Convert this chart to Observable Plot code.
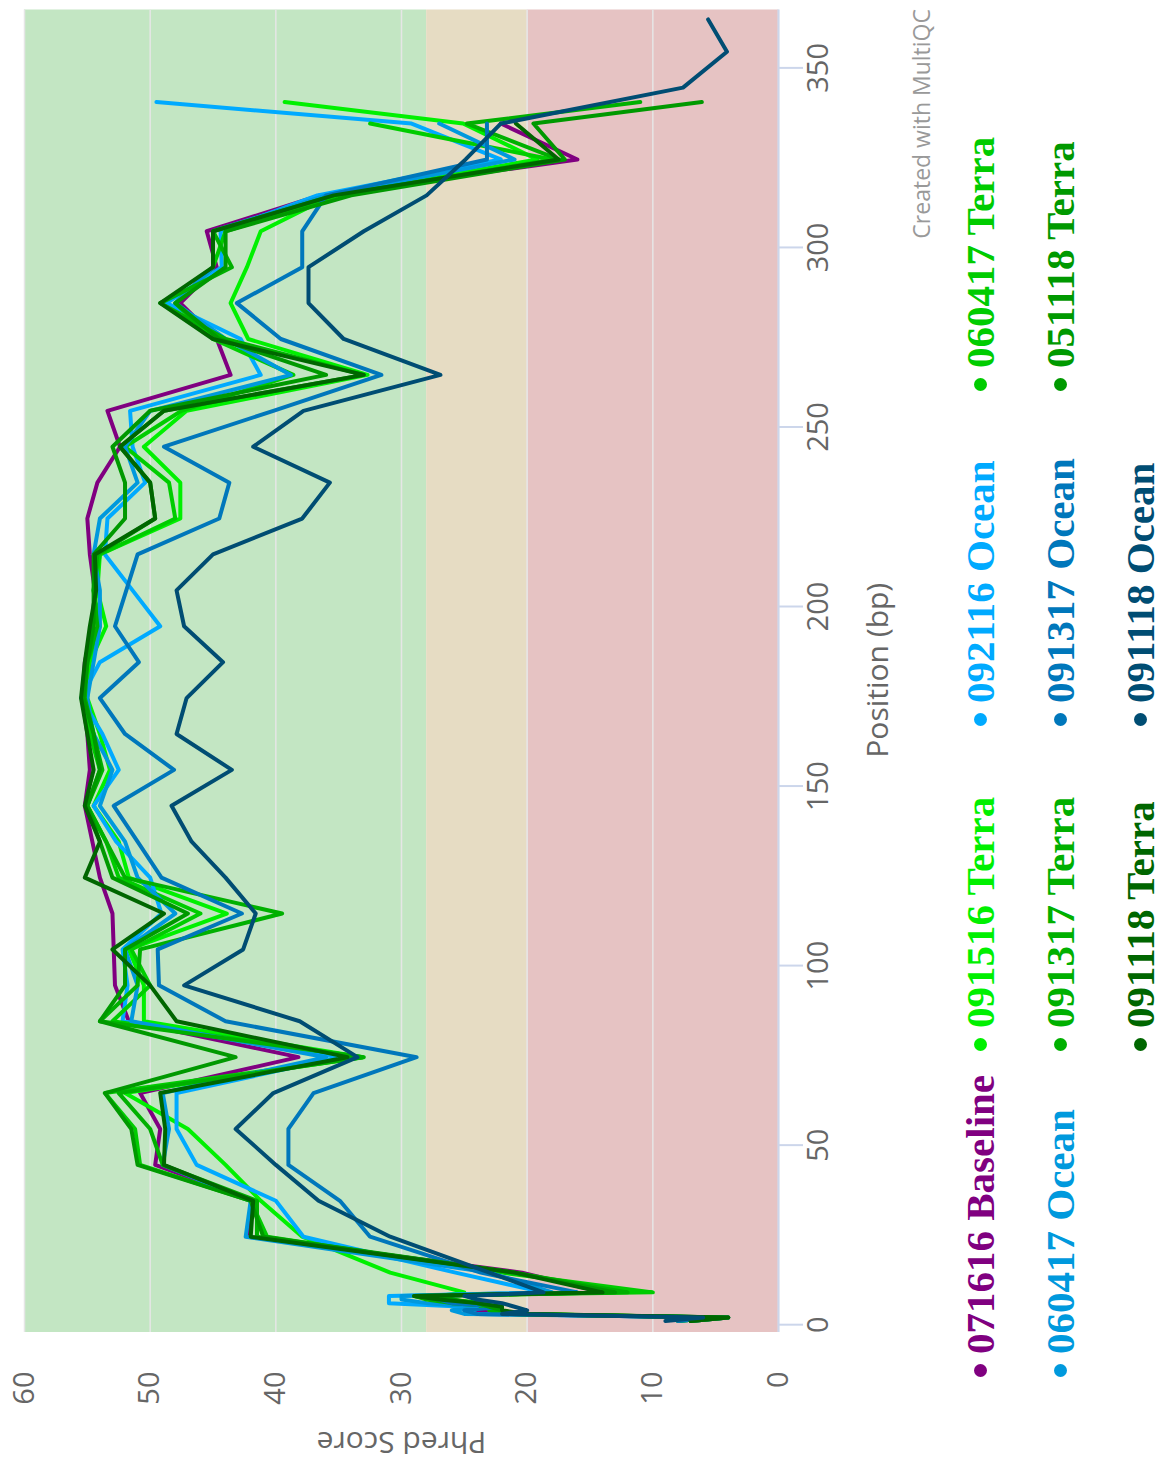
<!DOCTYPE html>
<html>
<head>
<meta charset="utf-8">
<script src="https://cdn.jsdelivr.net/npm/d3@7"></script>
<script src="https://cdn.jsdelivr.net/npm/@observablehq/plot@0.6"></script>
<style>
  html, body { margin: 0; padding: 0; background: #fff; }
  body { width: 1163px; height: 1463px; overflow: hidden; position: relative; }
  /* The figure is laid out landscape, then turned a quarter turn counter-clockwise. */
  #figure { position: absolute; left: 0; top: 0; width: 1463px; height: 1163px;
            transform-origin: 0 0; transform: translateY(1463px) rotate(-90deg); background: #fff; }
  #chart { position: absolute; left: 0; top: 0; }
  #credits { position: absolute; right: 9px; top: 905px; font: 23px 'Open Sans', sans-serif; color: #999; white-space: nowrap; }
  #legend { position: absolute; left: 86px; top: 940px; display: grid;
            grid-template-columns: 326px 325px 335px 300px; grid-auto-rows: 80px; }
  .item { display: flex; align-items: center; height: 80px; font: bold 41px 'Liberation Serif', serif; white-space: nowrap; }
  .dot { width: 13px; height: 13px; border-radius: 50%; margin-right: 10px; flex: none; }
</style>
</head>
<body>
<div id="figure">
  <div id="chart"></div>
  <div id="credits">Created with MultiQC</div>
  <div id="legend"></div>
</div>
<script>
// Mean Phred quality per base position, one array per sample (null = read not that long).
const positions = [1, 2, 3, 4, 5, 6, 7, 8, 9,
  14.5, 24.5, 34.5, 44.5, 54.5, 64.5, 74.5, 84.5, 94.5, 104.5,
  114.5, 124.5, 134.5, 144.5, 154.5, 164.5, 174.5, 184.5, 194.5, 204.5,
  214.5, 224.5, 234.5, 244.5, 254.5, 264.5, 274.5, 284.5, 294.5, 304.5,
  314.5, 324.5, 334.5, 340.5, 344.5, 354.5, 363.5];

const q071616Baseline = [7, 4, 22, 24, 23, 25, 26, 28, 14,
  20.4, 42.2, 41.8, 49.6, 49.2, 50.8, 38.2, 51.7, 52.8, 52.9,
  53.0, 54.0, 54.6, 55.2, 54.8, 55.0, 55.4, 55.2, 54.6, 54.4,
  54.8, 55.0, 54.2, 52.4, 53.4, 43.6, 44.7, 47.6, 44.7, 45.5,
  36.5, 16.0, 22.1, null, null, null, null];
const q091516Terra = [8, 5, 20, 23, 22, 24, 26, 27, 25,
  30.9, 37.9, 41.2, 44.0, 47.0, 52.0, 33.1, 50.5, 50.5, 51.7,
  43.9, 51.7, 52.5, 54.5, 53.2, 54.0, 55.0, 54.8, 53.5, 54.2,
  54.0, 47.6, 47.6, 50.5, 47.1, 32.7, 42.2, 43.6, 42.3, 41.2,
  35.5, 19.2, 25.1, 39.3, null, null, null];
const q092116Ocean = [8, 5, 24, 25, 25, 31, 31, 31, 18.7,
  25.7, 37.8, 40.0, 46.3, 47.9, 47.9, 34.9, 52.2, 51.8, 52.2,
  49.1, 50.0, 52.7, 54.5, 52.5, 53.8, 55.5, 54.0, 49.2, 51.4,
  53.6, 53.4, 50.4, 51.4, 51.6, 41.2, 42.8, 48.7, 44.3, 44.4,
  36.7, 22.1, 29.2, 49.5, null, null, null];
const q060417Terra = [7, 4, 21, 22, 24, 23, 27, 29, 10,
  22.0, 40.7, 42.0, 50.8, 51.2, 53.6, 33.1, 53.0, 50.0, 51.5,
  46.0, 52.5, 53.5, 55.0, 54.0, 54.8, 55.3, 55.0, 54.0, 54.5,
  54.0, 48.0, 48.5, 52.0, 47.5, 38.6, 45.0, 48.0, 45.0, 44.0,
  35.0, 18.0, 32.5, null, null, null, null];
const q060417Ocean = [7, 4, 25, 26, 24, 28, 30, 30, 18,
  23.0, 42.4, 42.0, 49.0, 48.5, 49.0, 36.0, 51.5, 51.0, 52.0,
  48.0, 51.0, 52.0, 54.0, 53.0, 54.5, 55.0, 54.5, 54.0, 54.0,
  54.5, 54.0, 51.0, 52.0, 50.0, 38.8, 44.0, 48.0, 45.0, 45.0,
  36.0, 21.0, 27.0, null, null, null, null];
const q091317Terra = [8, 5, 22, 23, 22, 26, 28, 29, 12,
  21.0, 41.5, 41.5, 49.0, 50.0, 52.5, 33.0, 54.0, 51.0, 50.8,
  39.5, 52.0, 53.5, 55.0, 53.8, 54.5, 55.2, 55.0, 54.2, 54.5,
  54.2, 49.6, 50.0, 52.4, 48.9, 33.0, 44.0, 49.2, 43.5, 45.0,
  35.4, 17.5, 24.8, 11.0, null, null, null];
const q091317Ocean = [8, 5, 24, 25, 22, 26, 27, 28, 16,
  23.7, 32.5, 34.9, 39.0, 39.0, 37.0, 28.8, 44.0, 49.3, 49.4,
  42.7, 49.1, 51.0, 52.9, 48.1, 52.0, 54.0, 50.9, 52.8, 51.9,
  51.0, 44.5, 43.7, 48.9, 40.2, 31.6, 39.6, 43.1, 37.9, 37.9,
  36.0, 23.2, 23.2, null, null, null, null];
const q051118Terra = [7, 4, 21, 22, 23, 24, 26, 28, 13,
  21.0, 41.0, 42.0, 51.0, 51.5, 53.6, 43.2, 54.0, 52.0, 52.0,
  47.0, 53.0, 54.0, 55.0, 54.0, 54.5, 55.3, 55.0, 54.5, 54.5,
  54.5, 52.0, 52.0, 53.0, 50.0, 36.0, 44.5, 48.0, 44.0, 44.0,
  34.0, 17.0, 19.5, 6.1, null, null, null];
const q091118Terra = [7, 4, 20, 22, 22, 24, 27, 29, 14,
  21.0, 42.0, 41.8, 48.9, 48.8, 49.2, 34.3, 47.9, 50.0, 53.0,
  48.9, 55.2, 54.0, 55.2, 54.5, 55.0, 55.5, 55.2, 54.8, 54.3,
  54.4, 49.6, 50.0, 52.4, 48.9, 33.0, 45.0, 49.2, 45.0, 45.0,
  35.4, 17.5, 20.9, null, null, null, null];
const q091118Ocean = [9, 6, 22, 20, 21, 22, 24, 25, 18.7,
  23.0, 30.9, 36.6, 40.0, 43.2, 40.2, 33.5, 38.1, 47.3, 42.6,
  41.6, 44.0, 46.7, 48.3, 43.5, 47.9, 47.1, 44.2, 47.3, 47.9,
  45.0, 37.9, 35.7, 41.8, 37.8, 26.9, 34.6, 37.4, 37.4, 33.0,
  28.0, 24.9, 22.1, null, 7.6, 4.1, 5.6];

const sampleNames = ["071616 Baseline", "091516 Terra", "092116 Ocean", "060417 Terra",
  "060417 Ocean", "091317 Terra", "091317 Ocean", "051118 Terra", "091118 Terra", "091118 Ocean"];
const sampleColors = ["#800080", "#00f000", "#00aaff", "#00cc00",
  "#0099dd", "#00b000", "#0077bb", "#009900", "#006600", "#004d73"];
const sampleValues = [q071616Baseline, q091516Terra, q092116Ocean, q060417Terra,
  q060417Ocean, q091317Terra, q091317Ocean, q051118Terra, q091118Terra, q091118Ocean];

// Quality zones: good / acceptable / poor
const bandFrom = [28, 20, 0];
const bandTo = [60, 28, 20];
const bandColors = ["#c3e6c3", "#e6dcc3", "#e6c3c3"];

const positionTicks = [0, 50, 100, 150, 200, 250, 300, 350];
const phredTicks = [0, 10, 20, 30, 40, 50, 60];
const xDomain = [-1.9, 366.4];

const bandMarks = bandFrom.map((from, i) =>
  Plot.rect([{from, to: bandTo[i]}], {
    x1: () => xDomain[0], x2: () => xDomain[1], y1: "from", y2: "to", fill: bandColors[i]
  }));

const lineMarks = sampleValues.map((vals, i) => {
  const rows = positions.map((p, j) => ({pos: p, q: vals[j]})).filter(d => d.q != null);
  return Plot.line(rows, {x: "pos", y: "q", stroke: sampleColors[i], strokeWidth: 4,
    strokeLinejoin: "round", strokeLinecap: "round"});
});

const chart = Plot.plot({
  width: 1463,
  height: 920,
  marginLeft: 131,
  marginRight: 9.5,
  marginTop: 24,
  marginBottom: 142,
  style: {fontFamily: "'Open Sans', sans-serif", background: "transparent", color: "#666"},
  x: {domain: xDomain},
  y: {domain: [0, 60]},
  marks: [
    ...bandMarks,
    Plot.ruleY(phredTicks, {stroke: "#e6e6e6", strokeWidth: 1.5}),
    Plot.ruleY([0], {stroke: "#ccd6eb", strokeWidth: 2}),
    Plot.axisX({ticks: positionTicks, tickSize: 25, tickPadding: 4, stroke: "#ccd6eb", strokeWidth: 2,
      fill: "#666", fontSize: 29, label: null}),
    Plot.axisY({ticks: phredTicks, tickSize: 0, tickPadding: 40, fill: "#666", fontSize: 29, label: null}),
    Plot.text(["Phred Score"], {frameAnchor: "left", dx: -110, rotate: -90, textAnchor: "middle",
      lineAnchor: "middle", fontSize: 30, fill: "#666"}),
    Plot.text(["Position (bp)"], {frameAnchor: "bottom", dy: 100, textAnchor: "middle",
      lineAnchor: "middle", fontSize: 30, fill: "#666"}),
    ...lineMarks
  ]
});
document.getElementById("chart").append(chart);

// Legend: three rows, the last one holding two entries in the middle columns
const legend = document.getElementById("legend");
sampleNames.forEach((name, i) => {
  const item = document.createElement("div");
  item.className = "item";
  item.style.color = sampleColors[i];
  if (i === 8) item.style.gridColumn = "2";
  const dot = document.createElement("span");
  dot.className = "dot";
  dot.style.background = sampleColors[i];
  item.append(dot, document.createTextNode(name));
  legend.append(item);
});
</script>
</body>
</html>
